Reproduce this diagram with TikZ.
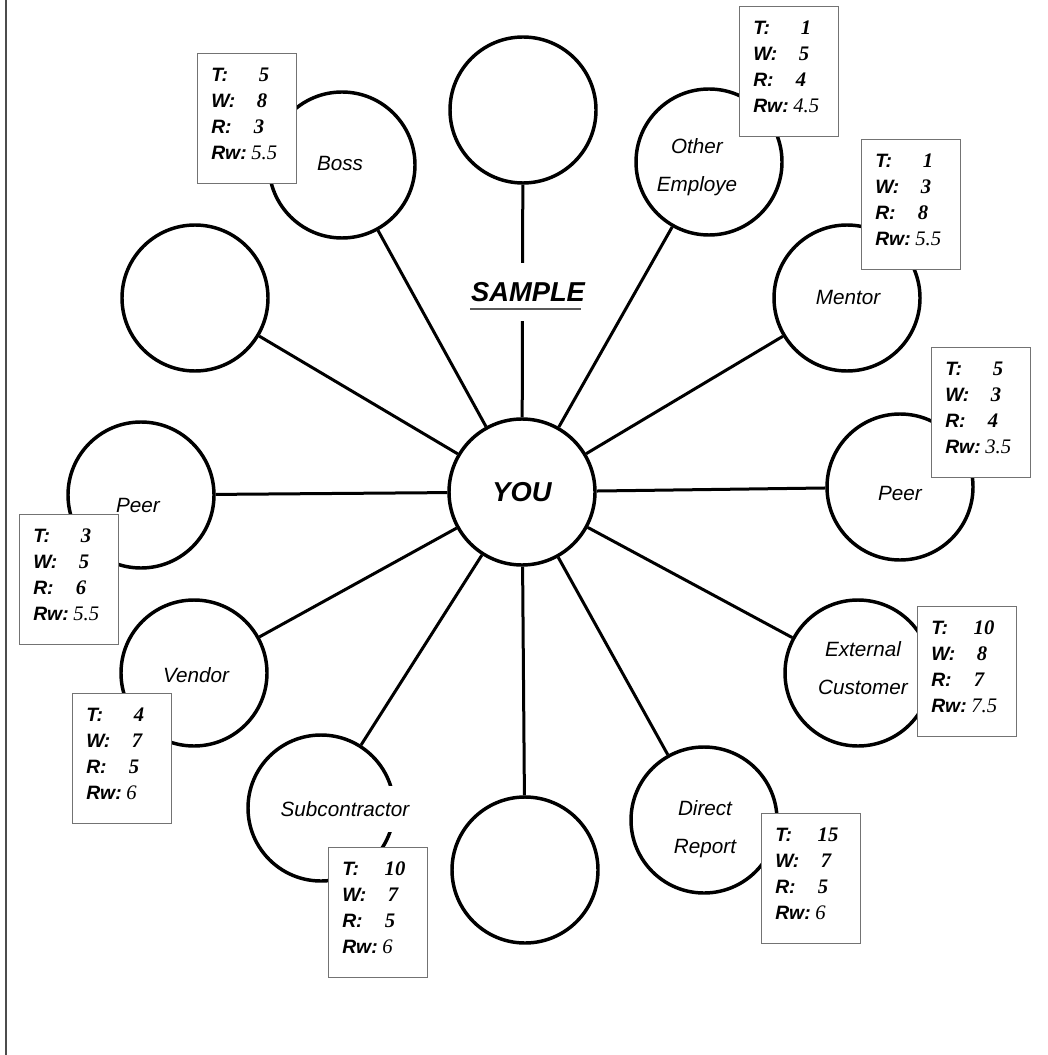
\documentclass[tikz,border=0pt]{standalone}
\usepackage{fontspec}
\setmainfont{Liberation Serif}
\setsansfont{Liberation Sans}
\tikzset{
  person/.style={circle, draw, line width=2.6pt, minimum size=109.5pt, inner sep=0pt, fill=white},
  lbl/.style={font=\sffamily\itshape\fontsize{15.5}{28.5}\selectfont, align=center, inner sep=0pt},
  link/.style={line width=2.25pt},
  databox/.style={draw=black!55, line width=1pt, fill=white, minimum width=74.25pt, minimum height=97.5pt, anchor=north west, inner sep=0pt},
  dkey/.style={font=\sffamily\bfseries\itshape\fontsize{14.5}{16}\selectfont, anchor=west, inner sep=0pt},
  dval/.style={font=\rmfamily\bfseries\itshape\fontsize{15.5}{16}\selectfont, inner sep=0pt},
  drw/.style={font=\rmfamily\itshape\fontsize{15.5}{16}\selectfont, anchor=west, inner sep=0pt},
  big/.style={font=\sffamily\bfseries\itshape\fontsize{20.5}{24}\selectfont}
}
\newcommand{\DataBox}[7]{%
  \node[databox] (#1) at (#2,#3) {};
  \node[dkey] (#1-tk) at (#2+14,#3+22) {T:};
  \node[dkey] (#1-wk) at (#2+14,#3+48) {W:};
  \node[dkey] (#1-rk) at (#2+14,#3+74) {R:};
  \node[dkey] (#1-rwk) at (#2+14,#3+100) {Rw:};
  \node[dval] (#1-tv) at (#2+67,#3+22) {#4};
  \node[dval] (#1-wv) at (#2+65,#3+48) {#5};
  \node[dval] (#1-rv) at (#2+62,#3+74) {#6};
  \node[drw] (#1-rwv) at (#2+54,#3+100) {#7};
}
\begin{document}
\begin{tikzpicture}[x=0.75pt,y=-0.75pt]
\useasboundingbox (0,0) rectangle (1047,1055);
\fill[white] (0,0) rectangle (1047,1055);
% left frame edge
\draw[black!70, line width=1.5pt] (6,0) -- (6,1055);

% circles
\node[person, big] (you) at (522,492) {YOU};
\node[person] (top) at (523,110) {};
\node[person] (boss) at (342,165) {};
\node[person] (other) at (709,162) {};
\node[person] (mentor) at (847,298) {};
\node[person] (emptyl) at (195,298) {};
\node[person] (peerl) at (141,495) {};
\node[person] (peerr) at (900,487) {};
\node[person] (vendor) at (194,673) {};
\node[person] (ext) at (858,673) {};
\node[person] (sub) at (321,808) {};
\node[person] (bottom) at (525,870) {};
\node[person] (direct) at (704,820) {};

% connectors
\foreach \n in {top,boss,other,mentor,emptyl,peerl,peerr,vendor,ext,sub,bottom,direct}
  \draw[link] (you) -- (\n);

% SAMPLE title over the top connector
\node[big, fill=white, minimum height=42.75pt, inner xsep=1pt] (sample) at (528,292) {SAMPLE};
\draw[black!65, line width=1.5pt] (470,309) -- (581,309);

% labels
\node[lbl] (lboss) at (340,163) {Boss};
\node[lbl] (lother) at (697,167) {Other\\Employe};
\node[lbl] (lmentor) at (848,297) {Mentor};
\node[lbl] (lpeerr) at (900,493) {Peer};
\node[lbl] (lpeerl) at (138,505) {Peer};
\node[lbl] (lvendor) at (196,675) {Vendor};
\node[lbl] (lext) at (863,668) {External\\Customer};
\node[lbl, fill=white, minimum height=35pt] (lsub) at (345,809) {Subcontractor};
\node[lbl] (ldirect) at (705,829) {Direct\\Report};

% data boxes
\DataBox{dboss}{197}{53}{5}{8}{3}{5.5}
\DataBox{dother}{739}{6}{1}{5}{4}{4.5}
\DataBox{dmentor}{861}{139}{1}{3}{8}{5.5}
\DataBox{dpeerr}{931}{347}{5}{3}{4}{3.5}
\DataBox{dext}{917}{606}{10}{8}{7}{7.5}
\DataBox{dpeerl}{19}{514}{3}{5}{6}{5.5}
\DataBox{dvendor}{72}{693}{4}{7}{5}{6}
\DataBox{dsub}{328}{847}{10}{7}{5}{6}
\DataBox{ddirect}{761}{813}{15}{7}{5}{6}
\end{tikzpicture}
\end{document}
